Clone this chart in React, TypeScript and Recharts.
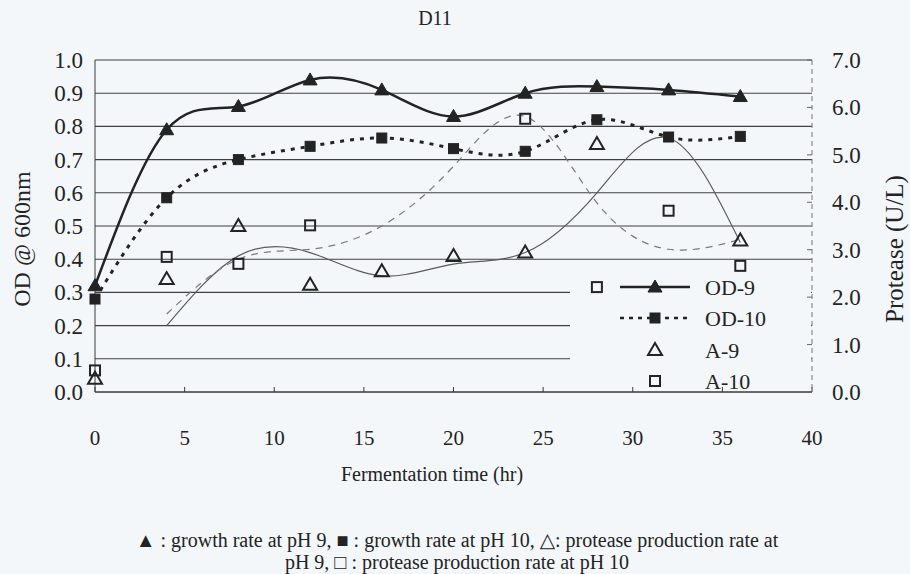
import React from 'react';
import {
  ComposedChart,
  Line,
  XAxis,
  YAxis,
  CartesianGrid,
  ReferenceArea,
} from 'recharts';

// fermentation time (hr)
const time = [0, 4, 8, 12, 16, 20, 24, 28, 32, 36];
// OD @ 600nm
const od9 = [0.32, 0.79, 0.86, 0.94, 0.91, 0.83, 0.9, 0.92, 0.91, 0.89];
const od10 = [0.28, 0.585, 0.7, 0.74, 0.765, 0.733, 0.725, 0.82, 0.768, 0.77];
// protease markers (read on the left scale)
const a9 = [0.04, 0.34, 0.5, 0.323, 0.364, 0.41, 0.42, 0.747, null, 0.456];
const a10 = [0.065, 0.407, 0.386, 0.502, null, null, 0.823, 0.316, 0.546, 0.38];
// thin trend curves
const a9Curve = [null, 0.2, 0.41, 0.42, 0.35, 0.385, 0.42, 0.6, 0.765, 0.45];
const a10Curve = [null, 0.235, 0.4, 0.43, 0.5, 0.68, 0.83, 0.57, 0.43, 0.46];

const xTicks = [0, 5, 10, 15, 20, 25, 30, 35, 40];
const leftTicks = [0, 0.1, 0.2, 0.3, 0.4, 0.5, 0.6, 0.7, 0.8, 0.9, 1.0];
const rightTicks = [0, 1, 2, 3, 4, 5, 6, 7];

const data = time.map((t, i) => ({
  t,
  od9: od9[i],
  od10: od10[i],
  a9: a9[i],
  a10: a10[i],
  a9Curve: a9Curve[i],
  a10Curve: a10Curve[i],
}));

const FONT = '"Liberation Serif", "DejaVu Serif", serif';
const INK = '#232323';
const BG = '#f4f7fa';

const tri = (cx: number, cy: number, filled: boolean) => (
  <polygon
    points={`${cx},${cy - 7} ${cx - 7},${cy + 5} ${cx + 7},${cy + 5}`}
    fill={filled ? INK : 'none'}
    stroke={INK}
    strokeWidth={filled ? 1 : 2}
    strokeLinejoin="miter"
  />
);
const sq = (cx: number, cy: number, filled: boolean) => (
  <rect
    x={cx - 5}
    y={cy - 5}
    width={10}
    height={10}
    fill={filled ? INK : 'none'}
    stroke={INK}
    strokeWidth={filled ? 1 : 2}
  />
);

const makeDot = (kind: 'tri' | 'sq', filled: boolean) => (props: any) => {
  const { cx, cy, index } = props;
  if (cx == null || cy == null || Number.isNaN(cy)) return <g key={index} />;
  return <g key={index}>{kind === 'tri' ? tri(cx, cy, filled) : sq(cx, cy, filled)}</g>;
};

const LeftTick = (props: any) => (
  <text x={props.x} y={props.y} dy="0.35em" textAnchor="end" fontSize={23} fontFamily={FONT} fill={INK}>
    {Number(props.payload.value).toFixed(1)}
  </text>
);
const RightTick = (props: any) => (
  <text x={props.x} y={props.y} dy="0.35em" textAnchor="start" fontSize={23} fontFamily={FONT} fill={INK}>
    {Number(props.payload.value).toFixed(1)}
  </text>
);
const BottomTick = (props: any) => (
  <text x={props.x} y={props.y} dy="0.35em" textAnchor="middle" fontSize={21} fontFamily={FONT} fill={INK}>
    {props.payload.value}
  </text>
);

const legendRows = [
  { label: 'OD-9', y: 287 },
  { label: 'OD-10', y: 318 },
  { label: 'A-9', y: 350 },
  { label: 'A-10', y: 381 },
];

function LegendBox() {
  return (
    <svg width={910} height={574} style={{ position: 'absolute', left: 0, top: 0, pointerEvents: 'none' }}>
      <line x1={620} x2={690} y1={287} y2={287} stroke={INK} strokeWidth={2.5} />
      {tri(655, 287, true)}
      <line x1={620} x2={690} y1={318} y2={318} stroke={INK} strokeWidth={2.5} strokeDasharray="4 5" />
      {sq(655, 318, true)}
      {tri(655, 350, false)}
      {sq(655, 381, false)}
      {legendRows.map((r) => (
        <text key={r.label} x={705} y={r.y} dy="0.35em" fontSize={22} fontFamily={FONT} fill={INK}>
          {r.label}
        </text>
      ))}
    </svg>
  );
}

const textStyle: React.CSSProperties = {
  position: 'absolute',
  fontFamily: FONT,
  color: INK,
  whiteSpace: 'nowrap',
  lineHeight: 1,
};

export default function App() {
  return (
    <div style={{ position: 'absolute', left: 0, top: 0, width: 910, height: 574, background: BG }}>
      <ComposedChart
        width={910}
        height={574}
        data={data}
        margin={{ top: 60, right: 38, bottom: 142, left: 35 }}
      >
        <CartesianGrid yAxisId="left" vertical={false} stroke="#404040" strokeWidth={1.1} />
        <ReferenceArea
          yAxisId="left"
          x1={26.5}
          x2={39.95}
          y1={0.004}
          y2={0.34}
          fill={BG}
          fillOpacity={1}
          stroke="none"
        />
        <XAxis
          dataKey="t"
          type="number"
          domain={[0, 40]}
          ticks={xTicks}
          interval={0}
          height={40}
          tickSize={-5}
          tickMargin={51}
          tick={<BottomTick />}
          axisLine={{ stroke: '#3a3a3a' }}
          tickLine={{ stroke: '#3a3a3a' }}
        />
        <YAxis
          yAxisId="left"
          type="number"
          domain={[0, 1]}
          ticks={leftTicks}
          interval={0}
          width={60}
          tickLine={false}
          tickMargin={6}
          tick={<LeftTick />}
          axisLine={{ stroke: '#3a3a3a' }}
        />
        <YAxis
          yAxisId="right"
          orientation="right"
          type="number"
          domain={[0, 7]}
          ticks={rightTicks}
          interval={0}
          width={60}
          allowDataOverflow
          tickSize={-5}
          tickMargin={25}
          tick={<RightTick />}
          axisLine={{ stroke: '#777', strokeDasharray: '5 4' }}
          tickLine={{ stroke: '#666' }}
        />
        <Line
          yAxisId="left"
          dataKey="a9Curve"
          type="natural"
          stroke="#5a5a5a"
          strokeWidth={1.2}
          dot={false}
          isAnimationActive={false}
        />
        <Line
          yAxisId="left"
          dataKey="a10Curve"
          type="natural"
          stroke="#7a7a7a"
          strokeWidth={1.2}
          strokeDasharray="7 6"
          dot={false}
          isAnimationActive={false}
        />
        <Line
          yAxisId="left"
          dataKey="od10"
          type="natural"
          stroke={INK}
          strokeWidth={3}
          strokeDasharray="4 6"
          dot={makeDot('sq', true)}
          isAnimationActive={false}
        />
        <Line
          yAxisId="left"
          dataKey="od9"
          type="natural"
          stroke={INK}
          strokeWidth={2.5}
          dot={makeDot('tri', true)}
          isAnimationActive={false}
        />
        <Line
          yAxisId="left"
          dataKey="a9"
          stroke="none"
          dot={makeDot('tri', false)}
          isAnimationActive={false}
        />
        <Line
          yAxisId="left"
          dataKey="a10"
          stroke="none"
          dot={makeDot('sq', false)}
          isAnimationActive={false}
        />
      </ComposedChart>
      <LegendBox />
      <div style={{ ...textStyle, left: 0, width: 870, top: 8, textAlign: 'center', fontSize: 20 }}>D11</div>
      <div
        style={{
          ...textStyle,
          left: 22,
          top: 239,
          fontSize: 24,
          transform: 'translate(-50%, -50%) rotate(-90deg)',
        }}
      >
        OD @ 600nm
      </div>
      <div
        style={{
          ...textStyle,
          left: 894,
          top: 249,
          fontSize: 25,
          transform: 'translate(-50%, -50%) rotate(-90deg)',
        }}
      >
        Protease (U/L)
      </div>
      <div style={{ ...textStyle, left: 0, width: 864, top: 464, textAlign: 'center', fontSize: 20 }}>
        Fermentation time (hr)
      </div>
      <div style={{ ...textStyle, left: 0, width: 914, top: 530, textAlign: 'center', fontSize: 20 }}>
        ▲ : growth rate at pH 9, ■ : growth rate at pH 10, △: protease production rate at
      </div>
      <div style={{ ...textStyle, left: 0, width: 914, top: 552, textAlign: 'center', fontSize: 20 }}>
        pH 9, □ : protease production rate at pH 10
      </div>
    </div>
  );
}
